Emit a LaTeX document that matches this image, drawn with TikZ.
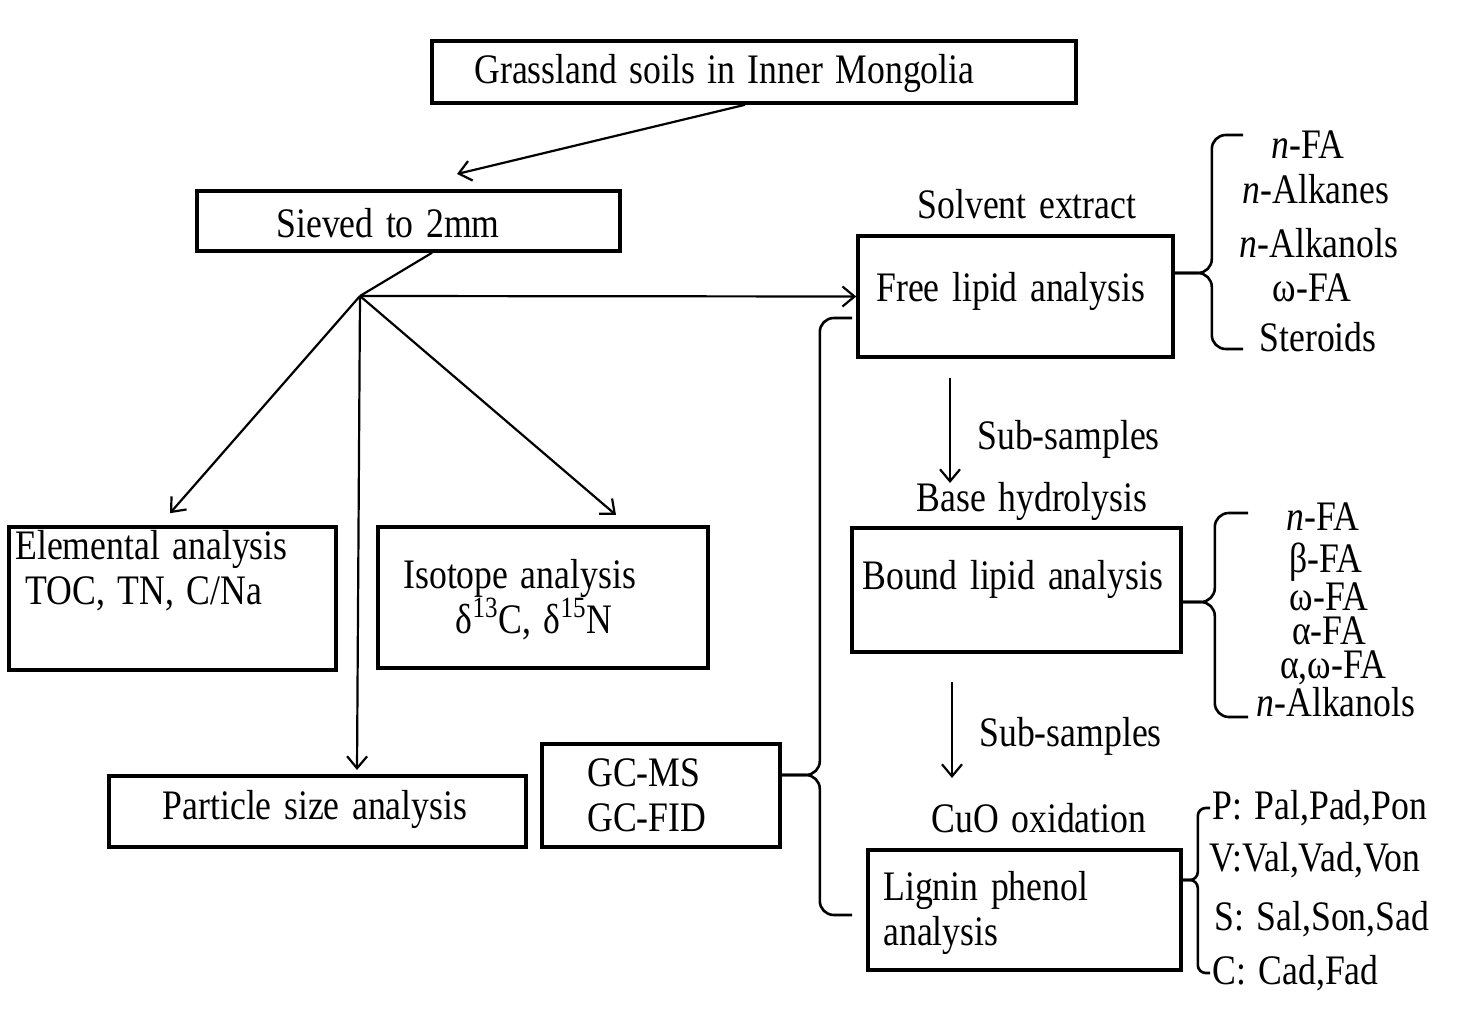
\documentclass[tikz,border=0pt]{standalone}
\usepackage{fontspec}
\setmainfont[FakeStretch=0.85, WordSpace=1.4]{Liberation Serif}
\usetikzlibrary{arrows.meta}

\begin{document}
\begin{tikzpicture}[x=0.5pt, y=-0.5pt, font=\fontsize{21}{24}\selectfont]
  \tikzstyle{block}     = [rectangle, draw = black, line width=1.8pt, inner sep=0pt]
  \tikzstyle{blocktext} = [inner sep=0pt, anchor=base west]
  \tikzstyle{steptext}  = [inner sep=0pt, anchor=base]
  \tikzstyle{connector} = [line width=1.1pt, -{Straight Barb[length=6pt, width=10pt]}]
  \tikzstyle{bracket}   = [line width=1.3pt, rounded corners=7pt]

  \useasboundingbox (0,0) rectangle (1468,1011);

  \node [block, minimum width=322pt,   minimum height=31pt]   (grassland) at (754,72)      {};
  \node [block, minimum width=211.5pt, minimum height=30pt]   (sieved)    at (408.5,221)   {};
  \node [block, minimum width=163.5pt, minimum height=71.5pt] (elemental) at (172.5,598.5) {};
  \node [block, minimum width=165pt,   minimum height=70.5pt] (isotope)   at (543,597.5)   {};
  \node [block, minimum width=208.5pt, minimum height=35.5pt] (particle)  at (317.5,811.5) {};
  \node [block, minimum width=119pt,   minimum height=51.5pt] (gc)        at (661,795.5)   {};
  \node [block, minimum width=157.5pt, minimum height=60.5pt] (free)      at (1015.5,296.5) {};
  \node [block, minimum width=164.5pt, minimum height=62pt]   (bound)     at (1016.5,590)  {};
  \node [block, minimum width=156.5pt, minimum height=60pt]   (lignin)    at (1024.5,910)  {};

  \node [blocktext] (grasslandtext)  at (474,84)  {Grassland soils in Inner Mongolia};
  \node [blocktext] (sievedtext)     at (276,237) {Sieved to 2mm};
  \node [blocktext] (elementaltext)  at (15,559)  {Elemental analysis};
  \node [blocktext] (elementaldesc)  at (25,604)  {TOC, TN, C/Na};
  \node [blocktext] (isotopetext)    at (403,588) {Isotope analysis};
  \node [steptext]  (isotopedesc)    at (534,633) {δ\textsuperscript{13}C, δ\textsuperscript{15}N};
  \node [steptext]  (particletext)   at (315,819) {Particle size analysis};
  \node [blocktext] (gcms)           at (587,786) {GC-MS};
  \node [blocktext] (gcfid)          at (587,831) {GC-FID};
  \node [blocktext] (freetext)       at (876,301) {Free lipid analysis};
  \node [blocktext] (boundtext)      at (862,589) {Bound lipid analysis};
  \node [blocktext] (lignintext)     at (883,900) {Lignin phenol};
  \node [blocktext] (lignindesc)     at (883,945) {analysis};

  \node [steptext]  (solvent)        at (1027,219) {Solvent extract};
  \node [blocktext] (subsamplesa)    at (977,449)  {Sub-samples};
  \node [steptext]  (hydrolysis)     at (1032,511) {Base hydrolysis};
  \node [blocktext] (subsamplesb)    at (979,746)  {Sub-samples};
  \node [steptext]  (oxidation)      at (1039,832) {CuO oxidation};

  \node [steptext] (freenfa)     at (1308,159) {\textit{n}-FA};
  \node [steptext] (freealkanes) at (1316,204) {\textit{n}-Alkanes};
  \node [steptext] (freealkanol) at (1319,257) {\textit{n}-Alkanols};
  \node [steptext] (freeofa)     at (1312,301) {ω-FA};
  \node [steptext] (freesterol)  at (1318,351) {Steroids};

  \node [steptext] (boundnfa)    at (1323,530) {\textit{n}-FA};
  \node [steptext] (boundbfa)    at (1326,572) {β-FA};
  \node [steptext] (boundofa)    at (1329,610) {ω-FA};
  \node [steptext] (boundafa)    at (1329,644) {α-FA};
  \node [steptext] (boundaofa)   at (1333,678) {α,ω-FA};
  \node [steptext] (boundalkanol) at (1336,716) {\textit{n}-Alkanols};

  \node [blocktext] (phenolp) at (1212,819) {P: Pal,Pad,Pon};
  \node [blocktext] (phenolv) at (1209,871) {V:Val,Vad,Von};
  \node [blocktext] (phenols) at (1214,930) {S: Sal,Son,Sad};
  \node [blocktext] (phenolc) at (1212,984) {C: Cad,Fad};

  \coordinate (branch)    at (360,296);
  \coordinate (sievedin)  at (457,174);
  \coordinate (isotopein) at (616,515);
  \coordinate (particlein) at (357,770);
  \coordinate (subaout)   at (950,378);
  \coordinate (subain)    at (950,483);
  \coordinate (subbout)   at (952,682);
  \coordinate (subbin)    at (952,778);

  \draw [connector] ([xshift=-4.5pt]grassland.south) -- (sievedin);
  \draw [line width=1.1pt] ([xshift=11.75pt]sieved.south) -- (branch);
  \draw [connector] (branch) -- (free.west);
  \draw [connector] (branch) -- ([xshift=-1.25pt, yshift=6pt]elemental.north);
  \draw [connector] (branch) -- (isotopein);
  \draw [connector] (branch) -- (particlein);
  \draw [connector] (subaout) -- (subain);
  \draw [connector] (subbout) -- (subbin);

  \draw [bracket] ([yshift=11.75pt]free.east) -- ++(18.5pt,0) |- (1243,135);
  \draw [bracket] ([yshift=11.75pt]free.east) -- ++(18.5pt,0) |- (1243,349);
  \draw [bracket] ([yshift=-6pt]bound.east) -- ++(16pt,0) |- (1248,513);
  \draw [bracket] ([yshift=-6pt]bound.east) -- ++(16pt,0) |- (1248,717);
  \draw [bracket, rounded corners=4pt] ([yshift=15pt]lignin.east) -- ++(7.5pt,0) |- (1210,808);
  \draw [bracket, rounded corners=4pt] ([yshift=15pt]lignin.east) -- ++(7.5pt,0) |- (1210,973);
  \draw [bracket] ([yshift=10.25pt]gc.east) -- ++(19pt,0) |- (852,318);
  \draw [bracket] ([yshift=10.25pt]gc.east) -- ++(19pt,0) |- (852,915);
\end{tikzpicture}
\end{document}
